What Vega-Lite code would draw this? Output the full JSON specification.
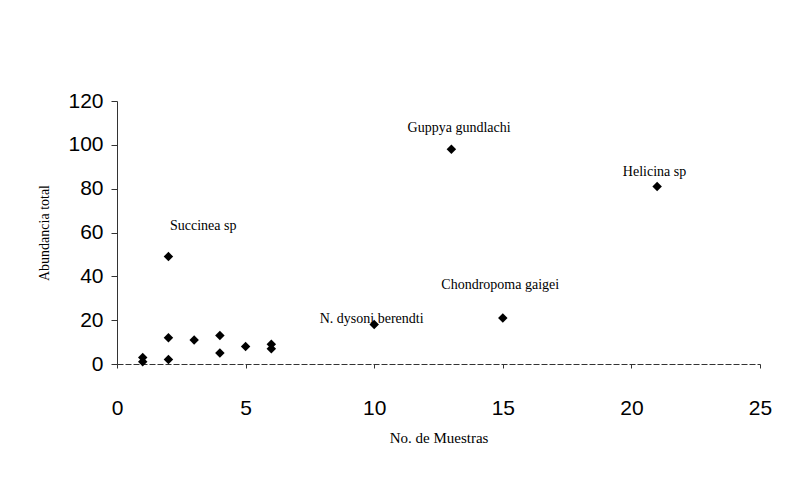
{
  "$schema": "https://vega.github.io/schema/vega-lite/v6.json",
  "autosize": "none",
  "width": 643,
  "height": 263,
  "padding": {"left": 117, "top": 101, "right": 25, "bottom": 114},
  "background": "white",
  "config": {"view": {"stroke": null}},
  "datasets": {
    "points": [
      {"muestras": 1, "abundancia": 1},
      {"muestras": 1, "abundancia": 3},
      {"muestras": 2, "abundancia": 2},
      {"muestras": 2, "abundancia": 12},
      {"muestras": 2, "abundancia": 49},
      {"muestras": 3, "abundancia": 11},
      {"muestras": 4, "abundancia": 5},
      {"muestras": 4, "abundancia": 13},
      {"muestras": 5, "abundancia": 8},
      {"muestras": 6, "abundancia": 7},
      {"muestras": 6, "abundancia": 9},
      {"muestras": 10, "abundancia": 18},
      {"muestras": 13, "abundancia": 98},
      {"muestras": 15, "abundancia": 21},
      {"muestras": 21, "abundancia": 81}
    ],
    "labels": [
      {"label": "Guppya gundlachi", "lx": 13.3, "ly": 107.5},
      {"label": "Helicina sp", "lx": 20.9, "ly": 87.5},
      {"label": "Succinea sp", "lx": 3.35, "ly": 63},
      {"label": "Chondropoma gaigei", "lx": 14.9, "ly": 36},
      {"label": "N. dysoni berendti", "lx": 9.9, "ly": 20.5}
    ]
  },
  "layer": [
    {
      "data": {"name": "points"},
      "mark": {"type": "point", "shape": "diamond", "filled": true, "color": "black", "size": 90, "opacity": 1},
      "encoding": {
        "x": {
          "field": "muestras", "type": "quantitative",
          "scale": {"domain": [0, 25], "nice": false, "zero": true},
          "axis": {
            "values": [0, 5, 10, 15, 20, 25],
            "title": "No. de Muestras",
            "grid": false,
            "labelFlush": false,
            "domainColor": "#333", "domainDash": [6, 2],
            "tickColor": "#333", "tickSize": 4,
            "labelFont": "Liberation Sans", "labelFontSize": 21, "labelColor": "black",
            "labelPadding": 29,
            "titleFont": "Liberation Serif", "titleFontSize": 15, "titleFontWeight": "normal", "titleColor": "black",
            "titlePadding": 12
          }
        },
        "y": {
          "field": "abundancia", "type": "quantitative",
          "scale": {"domain": [0, 120], "nice": false},
          "axis": {
            "values": [0, 20, 40, 60, 80, 100, 120],
            "title": "Abundancia total",
            "grid": false,
            "domainColor": "#333",
            "tickColor": "#333", "tickSize": 6,
            "labelFont": "Liberation Sans", "labelFontSize": 21, "labelColor": "black",
            "labelPadding": 8,
            "titleFont": "Liberation Serif", "titleFontSize": 14, "titleFontWeight": "normal", "titleColor": "black",
            "titlePadding": 16
          }
        }
      }
    },
    {
      "data": {"name": "labels"},
      "mark": {"type": "text", "font": "Liberation Serif", "fontSize": 14, "color": "black", "align": "center", "baseline": "middle"},
      "encoding": {
        "x": {"field": "lx", "type": "quantitative"},
        "y": {"field": "ly", "type": "quantitative"},
        "text": {"field": "label"}
      }
    }
  ]
}
